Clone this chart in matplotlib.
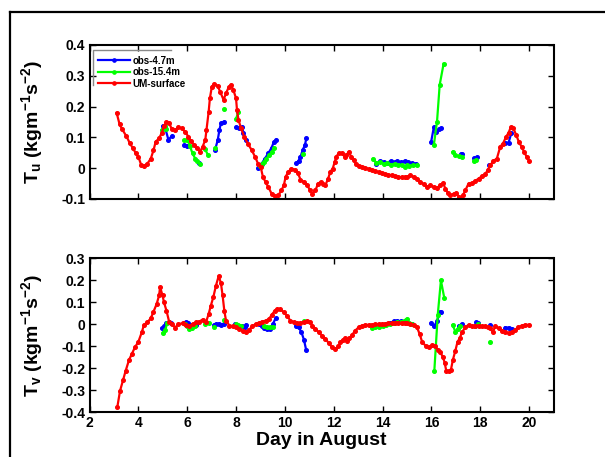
import numpy as np
import matplotlib
matplotlib.use('Agg')
import matplotlib.pyplot as plt
from matplotlib.lines import Line2D

nan = np.nan

# ---- top panel (Tu) ----
um_tu_day = [3.11, 3.23, 3.34, 3.51, 3.64, 3.78, 3.89, 4.00, 4.12, 4.23,
             4.37, 4.51, 4.62, 4.71, 4.85, 4.96, 5.05, 5.15, 5.26, 5.37,
             5.51, 5.64, 5.78, 5.92, 6.05, 6.15, 6.29, 6.42, 6.53, 6.63,
             6.74, 6.79, 6.88, 6.93, 7.01, 7.11, 7.25, 7.36, 7.49, 7.59,
             7.70, 7.79, 7.89, 8.00, 8.04, 8.10, 8.21, 8.34, 8.48, 8.64,
             8.78, 8.91, 9.01, 9.10, 9.21, 9.32, 9.46, 9.59, 9.73, 9.86,
             9.96, 10.03, 10.14, 10.27, 10.41, 10.54, 10.64, 10.78, 10.91, 11.02,
             11.12, 11.25, 11.36, 11.46, 11.55, 11.66, 11.77, 11.86, 11.96, 12.04,
             12.10, 12.20, 12.34, 12.45, 12.52, 12.61, 12.72, 12.82, 12.91, 13.02,
             13.16, 13.29, 13.43, 13.56, 13.70, 13.84, 13.97, 14.11, 14.24, 14.38,
             14.52, 14.65, 14.79, 14.93, 15.01, 15.14, 15.28, 15.41, 15.55, 15.69,
             15.82, 15.96, 16.10, 16.23, 16.37, 16.48, 16.57, 16.67, 16.78, 16.91,
             17.02, 17.12, 17.18, 17.29, 17.39, 17.52, 17.66, 17.80, 17.93, 18.07,
             18.20, 18.30, 18.41, 18.54, 18.68, 18.82, 18.93, 19.06, 19.16, 19.25,
             19.36, 19.47, 19.58, 19.69, 19.80, 19.90, 20.01]
um_tu = [0.180, 0.143, 0.126, 0.104, 0.083, 0.064, 0.050, 0.037, 0.010, 0.007,
         0.015, 0.031, 0.058, 0.086, 0.097, 0.115, 0.137, 0.151, 0.148, 0.126,
         0.124, 0.133, 0.129, 0.118, 0.102, 0.088, 0.075, 0.064, 0.053, 0.070,
         0.091, 0.124, 0.184, 0.227, 0.265, 0.274, 0.267, 0.246, 0.222, 0.243,
         0.263, 0.271, 0.254, 0.227, 0.189, 0.157, 0.129, 0.102, 0.080, 0.059,
         0.037, 0.013, 0.004, -0.028, -0.045, -0.061, -0.083, -0.091, -0.088, -0.072,
         -0.055, -0.028, -0.012, -0.001, -0.005, -0.017, -0.037, -0.045, -0.055, -0.070,
         -0.083, -0.072, -0.050, -0.045, -0.052, -0.055, -0.034, -0.012, -0.001, 0.020,
         0.037, 0.048, 0.048, 0.037, 0.042, 0.053, 0.037, 0.026, 0.013, 0.007,
         0.004, 0.001, -0.002, -0.007, -0.010, -0.012, -0.015, -0.020, -0.021, -0.023,
         -0.026, -0.028, -0.030, -0.030, -0.028, -0.023, -0.028, -0.034, -0.045, -0.052,
         -0.061, -0.055, -0.061, -0.064, -0.055, -0.048, -0.066, -0.080, -0.088, -0.083,
         -0.080, -0.093, -0.102, -0.088, -0.072, -0.050, -0.048, -0.041, -0.034, -0.026,
         -0.020, -0.007, 0.009, 0.024, 0.031, 0.070, 0.080, 0.102, 0.115, 0.133,
         0.129, 0.108, 0.086, 0.070, 0.053, 0.037, 0.022]

obs47_tu_day = [4.99, 5.10, 5.23, 5.37, nan,
                5.88, 6.01, nan,
                6.47, nan,
                7.14, 7.25, 7.32, 7.38, 7.52, nan,
                8.00, 8.14, 8.25, 8.30, 8.41, nan,
                8.91, 9.05, 9.18, 9.32, 9.46, 9.55, 9.65, nan,
                10.46, 10.57, 10.64, 10.73, 10.82, 10.88, nan,
                13.75, 13.90, 14.05, 14.20, 14.35, 14.50, 14.60, 14.75, 14.90, 15.05, 15.20, 15.35, nan,
                15.99, 16.10, 16.20, 16.30, 16.41, nan,
                17.20, 17.26, nan,
                17.75, 17.88, nan,
                18.34, nan,
                19.02, 19.16, 19.27]
obs47_tu = [0.137, 0.130, 0.093, 0.104, nan,
            0.075, 0.072, nan,
            0.017, nan,
            0.059, 0.091, 0.124, 0.146, 0.151, nan,
            0.133, 0.129, 0.133, 0.115, 0.091, nan,
            0.001, 0.015, 0.031, 0.048, 0.067, 0.086, 0.093, nan,
            0.016, 0.025, 0.037, 0.059, 0.075, 0.097, nan,
            0.015, 0.022, 0.020, 0.018, 0.024, 0.020, 0.022, 0.019, 0.023, 0.020, 0.016, 0.015, nan,
            0.086, 0.133, 0.118, 0.126, 0.129, nan,
            0.045, 0.047, nan,
            0.032, 0.035, nan,
            0.012, nan,
            0.083, 0.083, 0.113]

obs154_tu_day = [4.95, 5.08, 5.15, nan,
                 5.88, 6.01, 6.11, 6.22, 6.33, 6.42, 6.52, nan,
                 6.72, 6.86, nan,
                 7.14, nan,
                 7.52, nan,
                 8.00, 8.10, nan,
                 9.00, 9.05, 9.14, 9.24, 9.35, 9.46, 9.55, nan,
                 10.75, nan,
                 13.60, 13.75, 13.90, 14.05, 14.20, 14.35, 14.50, 14.65, 14.80, 14.90, 15.00, 15.10, 15.25, 15.40, nan,
                 16.10, 16.23, 16.34, 16.50, nan,
                 16.87, 16.98, 17.12, 17.25, nan,
                 17.73, 17.84]
obs154_tu = [0.124, 0.137, 0.128, nan,
             0.091, 0.093, 0.072, 0.048, 0.031, 0.024, 0.015, nan,
             0.063, 0.042, nan,
             0.067, nan,
             0.191, nan,
             0.160, 0.184, nan,
             0.008, 0.013, 0.021, 0.031, 0.042, 0.053, 0.064, nan,
             0.045, nan,
             0.030, 0.018, 0.020, 0.015, 0.018, 0.012, 0.015, 0.010, 0.012, 0.003, 0.010, 0.008, 0.010, 0.010, nan,
             0.075, 0.151, 0.271, 0.339, nan,
             0.053, 0.042, 0.039, 0.037, nan,
             0.024, 0.028]

# ---- bottom panel (Tv) ----
um_tv_day = [3.14, 3.25, 3.37, 3.48, 3.62, 3.73, 3.86, 4.00, 4.14, 4.23,
             4.37, 4.51, 4.62, 4.75, 4.85, 4.89, 4.99, 5.05, 5.15, 5.26,
             5.37, 5.51, 5.64, 5.81, 5.95, 6.08, 6.22, 6.36, 6.49, 6.63,
             6.77, 6.88, 6.97, 7.07, 7.18, 7.29, 7.38, 7.45, 7.52, 7.59,
             7.73, 7.86, 8.00, 8.14, 8.27, 8.41, 8.53, 8.67, 8.80, 8.94,
             9.07, 9.21, 9.35, 9.46, 9.59, 9.69, 9.82, 9.96, 10.10, 10.23,
             10.37, 10.50, 10.64, 10.78, 10.91, 11.01, 11.12, 11.25, 11.39, 11.52,
             11.66, 11.80, 11.93, 12.07, 12.18, 12.27, 12.37, 12.48, 12.54, 12.64,
             12.75, 12.88, 13.02, 13.16, 13.29, 13.43, 13.56, 13.70, 13.84, 13.97,
             14.11, 14.24, 14.38, 14.52, 14.65, 14.79, 14.93, 15.01, 15.14, 15.28,
             15.41, 15.52, 15.62, 15.76, 15.89, 16.03, 16.16, 16.26, 16.37, 16.48,
             16.54, 16.61, 16.71, 16.80, 16.88, 16.98, 17.07, 17.16, 17.25, 17.39,
             17.52, 17.66, 17.80, 17.93, 18.07, 18.20, 18.30, 18.41, 18.52, 18.61,
             18.75, 18.88, 19.02, 19.16, 19.29, 19.43, 19.56, 19.70, 19.84, 20.01]
um_tv = [-0.377, -0.304, -0.256, -0.213, -0.163, -0.137, -0.106, -0.081, -0.038, -0.004,
         0.008, 0.026, 0.056, 0.091, 0.130, 0.168, 0.130, 0.099, 0.061, 0.011,
         0.000, -0.016, 0.000, 0.003, -0.004, -0.010, 0.000, 0.008, 0.011, 0.020,
         0.008, 0.046, 0.084, 0.122, 0.175, 0.218, 0.187, 0.130, 0.061, 0.015,
         -0.007, -0.010, -0.015, -0.023, -0.030, -0.036, -0.026, -0.011, 0.000, 0.005,
         0.011, 0.015, 0.023, 0.041, 0.061, 0.069, 0.066, 0.053, 0.035, 0.015,
         0.008, 0.003, 0.005, 0.011, 0.015, 0.011, -0.007, -0.022, -0.038, -0.053,
         -0.068, -0.087, -0.106, -0.114, -0.102, -0.084, -0.071, -0.065, -0.076, -0.065,
         -0.050, -0.030, -0.015, -0.007, -0.004, -0.004, -0.003, -0.001, 0.000, 0.000,
         0.002, 0.003, 0.005, 0.006, 0.006, 0.005, 0.005, 0.005, 0.000, -0.004,
         -0.015, -0.046, -0.081, -0.099, -0.106, -0.096, -0.102, -0.117, -0.129, -0.152,
         -0.175, -0.213, -0.213, -0.208, -0.163, -0.122, -0.081, -0.065, -0.038, -0.015,
         -0.004, -0.010, -0.007, -0.007, -0.010, -0.010, -0.015, -0.020, -0.038, -0.010,
         -0.020, -0.030, -0.038, -0.041, -0.038, -0.026, -0.015, -0.007, -0.004, -0.004]

obs47_tv_day = [4.95, 5.05, 5.15, 5.25, 5.35, nan,
                5.85, 5.95, 6.05, 6.15, 6.25, 6.35, nan,
                7.10, 7.20, 7.30, 7.40, 7.50, nan,
                7.95, 8.05, 8.15, 8.25, 8.35, 8.40, nan,
                8.95, 9.05, 9.14, 9.28, 9.41, 9.51, 9.62, nan,
                10.44, 10.57, 10.68, 10.78, 10.87, nan,
                13.70, 13.85, 14.00, 14.15, 14.30, 14.45, 14.60, 14.75, 14.90, 15.05, 15.20, nan,
                15.99, 16.10, 16.23, 16.34, 16.39, nan,
                17.12, 17.25, nan,
                17.84, 17.89, nan,
                18.38, nan,
                19.02, 19.16, 19.29]
obs47_tv = [-0.020, -0.011, 0.005, 0.008, 0.003, nan,
            0.005, 0.010, 0.005, -0.005, -0.010, -0.005, nan,
            -0.004, 0.000, 0.002, -0.003, 0.002, nan,
            0.000, -0.004, -0.008, -0.010, -0.015, -0.004, nan,
            0.000, -0.008, -0.016, -0.023, -0.023, 0.000, 0.026, nan,
            -0.007, -0.015, -0.038, -0.071, -0.117, nan,
            -0.010, -0.008, -0.005, 0.000, 0.005, 0.012, 0.015, 0.012, 0.010, 0.005, 0.002, nan,
            0.005, -0.011, 0.012, 0.053, 0.056, nan,
            -0.007, 0.000, nan,
            0.008, 0.005, nan,
            -0.004, nan,
            -0.016, -0.016, -0.022]

obs154_tv_day = [4.99, 5.10, 5.19, nan,
                 5.90, 6.00, 6.08, 6.18, 6.30, nan,
                 6.74, 6.90, nan,
                 7.11, nan,
                 7.52, nan,
                 8.00, 8.10, 8.20, nan,
                 9.14, 9.28, 9.41, 9.51, nan,
                 10.80, nan,
                 13.56, 13.70, 13.85, 14.00, 14.15, 14.30, 14.45, 14.60, 14.75, 15.01, 15.10, 15.20, nan,
                 16.12, 16.26, 16.39, 16.53, nan,
                 16.87, 16.98, 17.07, 17.18, nan,
                 17.80, 17.89, nan,
                 18.38]
obs154_tv = [-0.041, -0.026, 0.005, nan,
             0.000, -0.010, -0.023, -0.018, -0.010, nan,
             0.000, 0.005, nan,
             -0.015, nan,
             0.020, nan,
             0.000, -0.004, -0.008, nan,
             -0.011, -0.015, -0.015, -0.015, nan,
             0.013, nan,
             -0.016, -0.014, -0.012, -0.010, -0.005, 0.000, 0.005, 0.008, 0.010, 0.024, 0.005, 0.000, nan,
             -0.213, 0.041, 0.198, 0.117, nan,
             -0.004, -0.035, -0.023, -0.011, nan,
             -0.007, 0.000, nan,
             -0.080]

plt.rcParams['font.family'] = ['Liberation Sans', 'DejaVu Sans']
plt.rcParams['font.weight'] = 'bold'
plt.rcParams['mathtext.fontset'] = 'custom'
plt.rcParams['mathtext.rm'] = 'Liberation Sans:bold'
plt.rcParams['mathtext.it'] = 'Liberation Sans:bold'
plt.rcParams['mathtext.bf'] = 'Liberation Sans:bold'
plt.rcParams['mathtext.default'] = 'rm'

W, H = 605, 457
fig = plt.figure(figsize=(W / 100, H / 100), dpi=100)

# outer border like the exported MATLAB figure
fig.add_artist(Line2D([9.5 / W, 9.5 / W], [1 - 12 / H, 0], transform=fig.transFigure, color='black', lw=1.6))
fig.add_artist(Line2D([9.5 / W, 1], [1 - 12 / H, 1 - 12 / H], transform=fig.transFigure, color='black', lw=1.6))

ax1 = fig.add_axes([89.5 / W, 1 - 199 / H, 464 / W, 154 / H])
ax2 = fig.add_axes([89.5 / W, 1 - 412 / H, 464 / W, 154 / H])

sty = dict(marker='o', markersize=2.6, lw=1.6)
ax1.plot(obs47_tu_day, obs47_tu, color='#0000ff', label='obs-4.7m', **sty)
ax1.plot(obs154_tu_day, obs154_tu, color='#00ff00', label='obs-15.4m', **sty)
ax1.plot(um_tu_day, um_tu, color='#ff0000', label='UM-surface', **sty)

ax2.plot(obs47_tv_day, obs47_tv, color='#0000ff', **sty)
ax2.plot(obs154_tv_day, obs154_tv, color='#00ff00', **sty)
ax2.plot(um_tv_day, um_tv, color='#ff0000', **sty)

for ax in (ax1, ax2):
    ax.set_xlim(2, 21)
    ax.set_xticks(np.arange(2, 21, 2))
    ax.tick_params(direction='in', top=True, right=True, length=4, width=1,
                   labelsize=10, pad=3)
    for s in ax.spines.values():
        s.set_linewidth(1.5)

ax1.set_ylim(-0.1, 0.4)
ax1.set_yticks([-0.1, 0, 0.1, 0.2, 0.3, 0.4])
ax1.set_yticklabels(['-0.1', '0', '0.1', '0.2', '0.3', '0.4'])
ax1.tick_params(labelbottom=False)

ax2.set_ylim(-0.4, 0.3)
ax2.set_yticks([-0.4, -0.3, -0.2, -0.1, 0, 0.1, 0.2, 0.3])
ax2.set_yticklabels(['-0.4', '-0.3', '-0.2', '-0.1', '0', '0.1', '0.2', '0.3'])

ax1.set_ylabel(r'T$_{\mathrm{u}}$ (kgm$^{\mathrm{-1}}$s$^{\mathrm{-2}}$)', fontsize=14, fontweight='bold')
ax2.set_ylabel(r'T$_{\mathrm{v}}$ (kgm$^{\mathrm{-1}}$s$^{\mathrm{-2}}$)', fontsize=14, fontweight='bold')
ax1.yaxis.set_label_coords(-0.095, 0.5)
ax2.yaxis.set_label_coords(-0.095, 0.5)
ax2.set_xlabel('Day in August', fontsize=14, fontweight='bold', labelpad=1)

leg = ax1.legend(loc='upper left', bbox_to_anchor=(0.019, 0.93), frameon=False,
                 fontsize=7, handlelength=3.3, handletextpad=0.25, labelspacing=0.15,
                 borderaxespad=0, borderpad=0, markerscale=0.9)
# MATLAB-style partial legend frame (left and top edges only)
ax1.plot([0.0075, 0.0075, 0.175], [0.74, 0.968, 0.968], transform=ax1.transAxes,
         color='#888888', lw=1, clip_on=False)

fig.savefig('out.png', dpi=100)
